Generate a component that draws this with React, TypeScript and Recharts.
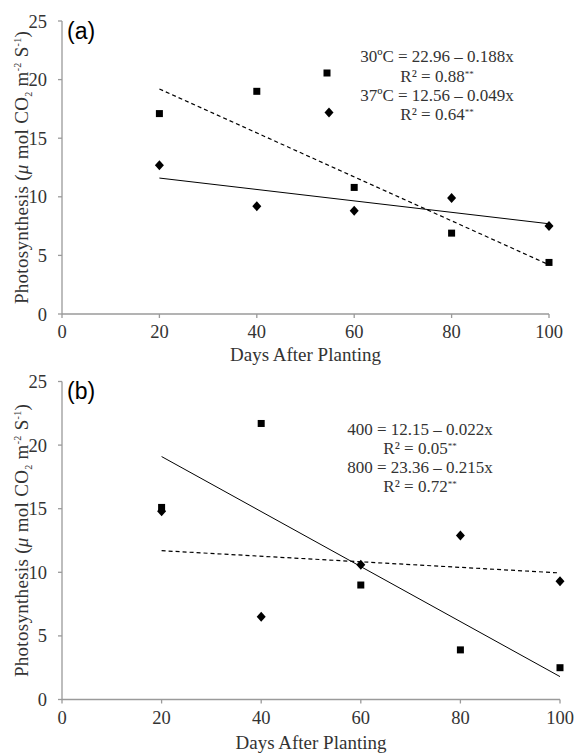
import React from "react";
import { ScatterChart, Scatter, XAxis, YAxis, Legend, Label } from "recharts";

// shared axes
const DAYS = [20, 40, 60, 80, 100];
const FIT_DAYS = [20, 100];
const X_TICKS = [0, 20, 40, 60, 80, 100];
const Y_TICKS = [0, 5, 10, 15, 20, 25];

// panel (a) – temperature
const T30 = [17.1, 19.0, 10.8, 6.9, 4.4];
const T37 = [12.7, 9.2, 8.8, 9.9, 7.5];
const T30_FIT = [19.2, 4.2];
const T37_FIT = [11.6, 7.7];
const A_EQ = ["30ºC = 22.96 – 0.188x", "R² = 0.88", "37ºC = 12.56 – 0.049x", "R² = 0.64"];

// panel (b) – CO2
const C800 = [15.1, 21.7, 9.0, 3.9, 2.5];
const C400 = [14.8, 6.5, 10.6, 12.9, 9.3];
const C800_FIT = [19.1, 1.8];
const C400_FIT = [11.7, 9.95];
const B_EQ = ["400 = 12.15 – 0.022x", "R² = 0.05", "800 = 23.36 – 0.215x", "R² = 0.72"];

const SERIF = '"Liberation Serif", "Times New Roman", serif';
const TXT = "#333";
const AXIS = "#9a9a9a";

const pts = (xs: number[], ys: number[]) => xs.map((x, i) => ({ x, y: ys[i] }));

const Square = (p: any) => (
  <rect x={p.cx - 3.5} y={p.cy - 3.5} width={7} height={7} fill="#000" />
);
const Diamond = (p: any) => (
  <polygon
    points={`${p.cx},${p.cy - 5} ${p.cx + 4.5},${p.cy} ${p.cx},${p.cy + 5} ${p.cx - 4.5},${p.cy}`}
    fill="#000"
  />
);
const NoDot = () => <g />;

function YTitle(props: any) {
  const { x, y, height } = props.viewBox;
  const cx = x + 26;
  const cy = y + height / 2;
  return (
    <text
      x={cx}
      y={cy}
      transform={`rotate(-90, ${cx}, ${cy})`}
      textAnchor="middle"
      fontFamily={SERIF}
      fontSize={19}
      letterSpacing={0.3}
      fill={TXT}
    >
      Photosynthesis (<tspan fontStyle="italic">μ</tspan> mol CO
      <tspan fontSize={10} dy={4}>2</tspan>
      <tspan dy={-4}> m</tspan>
      <tspan fontSize={10} dy={-7}>-2</tspan>
      <tspan dy={7}> S</tspan>
      <tspan fontSize={10} dy={-7}>-1</tspan>
      <tspan dy={7}>)</tspan>
    </text>
  );
}

function EqBlock({ lines, centerX, marks }: { lines: string[]; centerX: number; marks: boolean }) {
  return (
    <div style={{ position: "relative", width: 260, height: 80, fontFamily: SERIF, fontSize: 17, color: TXT }}>
      {lines.map((l, i) => (
        <div
          key={i}
          style={{ position: "absolute", left: centerX - 120, width: 240, top: i * 19.3, height: 19.3, lineHeight: "19.3px", textAlign: "center", whiteSpace: "nowrap" }}
        >
          {l}
          {i % 2 === 1 && <sup style={{ fontSize: 9, verticalAlign: "top", lineHeight: "14px" }}>**</sup>}
        </div>
      ))}
      {marks && (
        <svg style={{ position: "absolute", left: 0, top: 0 }} width={60} height={80}>
          <Square cx={27} cy={26} />
          <Diamond cx={29} cy={65.4} />
        </svg>
      )}
    </div>
  );
}

interface PanelProps {
  tag: string;
  top: number;
  height: number;
  margin: { top: number; right: number; bottom: number; left: number };
  sq: number[];
  dm: number[];
  sqFit: number[];
  dmFit: number[];
  sqDashed: boolean;
  eq: string[];
  eqCenter: number;
  eqTop: number;
  marks: boolean;
  titleDy: number;
}

function Panel(p: PanelProps) {
  const dash = { stroke: "#000", strokeWidth: 1.2, strokeDasharray: "4 3" };
  const solid = { stroke: "#000", strokeWidth: 1 };
  return (
    <div style={{ position: "absolute", left: 0, top: p.top, width: 579, height: p.height }}>
      <ScatterChart width={579} height={p.height} margin={p.margin}>
        <XAxis
          type="number"
          dataKey="x"
          domain={[0, 100]}
          ticks={X_TICKS}
          height={30}
          stroke={AXIS}
          strokeWidth={1.3}
          tickSize={4}
          tickMargin={7}
          tick={{ fill: TXT, fontSize: 18.5, fontFamily: SERIF }}
        >
          <Label
            content={(lp: any) => {
              const { x, y, width } = lp.viewBox;
              return (
                <text x={x + width / 2} y={y + p.titleDy} textAnchor="middle" fontFamily={SERIF} fontSize={19} fill={TXT}>
                  Days After Planting
                </text>
              );
            }}
          />
        </XAxis>
        <YAxis
          type="number"
          dataKey="y"
          domain={[0, 25]}
          ticks={Y_TICKS}
          width={60}
          stroke={AXIS}
          strokeWidth={1.3}
          tickSize={4}
          tickMargin={11}
          tick={{ fill: TXT, fontSize: 18.5, fontFamily: SERIF }}
        >
          <Label content={YTitle} />
        </YAxis>
        <Scatter data={pts(FIT_DAYS, p.sqFit)} line={p.sqDashed ? dash : solid} shape={NoDot} isAnimationActive={false} />
        <Scatter data={pts(FIT_DAYS, p.dmFit)} line={p.sqDashed ? solid : dash} shape={NoDot} isAnimationActive={false} />
        <Scatter data={pts(DAYS, p.sq)} shape={Square} isAnimationActive={false} />
        <Scatter data={pts(DAYS, p.dm)} shape={Diamond} isAnimationActive={false} />
        <Legend
          layout="horizontal"
          verticalAlign="middle"
          align="center"
          wrapperStyle={{ left: 300, top: p.eqTop, width: 260, height: 80 }}
          content={() => <EqBlock lines={p.eq} centerX={p.eqCenter - 300} marks={p.marks} />}
        />
      </ScatterChart>
      <div
        style={{ position: "absolute", left: 67, top: p.tag === "(a)" ? 20 : 10, fontFamily: '"Liberation Sans", Arial, sans-serif', fontSize: 23, lineHeight: 1, color: "#000" }}
      >
        {p.tag}
      </div>
    </div>
  );
}

export default function App() {
  return (
    <div style={{ position: "absolute", left: 0, top: 0, width: 579, height: 753, background: "#fff" }}>
      <Panel
        tag="(a)"
        top={0}
        height={370}
        margin={{ top: 21, right: 30, bottom: 26, left: 2 }}
        sq={T30}
        dm={T37}
        sqFit={T30_FIT}
        dmFit={T37_FIT}
        sqDashed={true}
        eq={A_EQ}
        eqCenter={437}
        eqTop={47.3}
        marks={true}
        titleDy={46.5}
      />
      <Panel
        tag="(b)"
        top={370}
        height={383}
        margin={{ top: 11.5, right: 19, bottom: 23.5, left: 2 }}
        sq={C800}
        dm={C400}
        sqFit={C800_FIT}
        dmFit={C400_FIT}
        sqDashed={false}
        eq={B_EQ}
        eqCenter={420}
        eqTop={49.6}
        marks={false}
        titleDy={49.5}
      />
    </div>
  );
}
